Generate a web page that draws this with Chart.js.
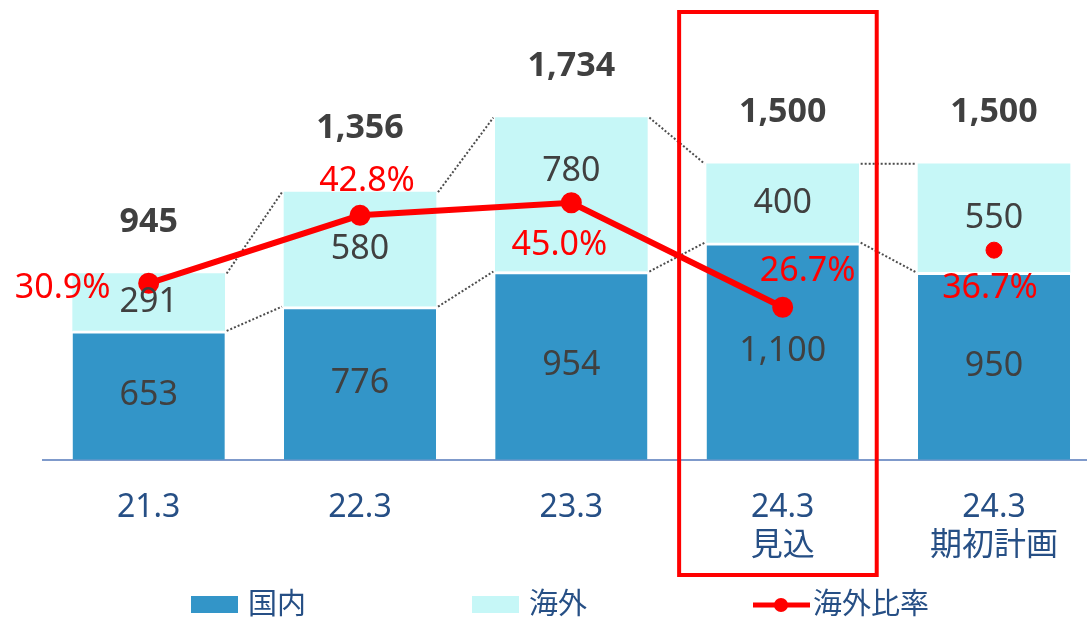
<!DOCTYPE html>
<html>
<head>
<meta charset="utf-8">
<script src="https://cdn.jsdelivr.net/npm/chart.js@4/dist/chart.umd.min.js"></script>
<style>
  html, body { margin: 0; padding: 0; background: #ffffff; overflow: hidden; }
  canvas { display: block; }
</style>
</head>
<body>
<canvas id="salesChart" width="1087" height="621"></canvas>
<script>
// 期ごとの売上（国内・海外）と海外比率
const categories = ['21.3', '22.3', '23.3', ['24.3', '見込'], ['24.3', '期初計画']];
const domestic = [653, 776, 954, 1100, 950];
const overseas = [291, 580, 780, 400, 550];
const totals = [945, 1356, 1734, 1500, 1500];
const overseasRatio = [30.9, 42.8, 45.0, 26.7, null];
const planRatio = [null, null, null, null, 36.7];

// 色・フォント
const fontFamily = "'Noto Sans', 'Noto Sans CJK JP', sans-serif";
const textGray = '#404040';
const navy = '#264F85';
const red = '#FF0000';

// ラベルのずらし量（重なり回避用）
const ratioLabelOffsets = [[-86, 5], [7, -34], [-12, 43], [25, -36], [-4, 38]];
const overseasLabelShift = [0, 0, -23, 0, 0];
const totalLabelShift = [0, -13, 0, 0, 0];

const toPoints = arr => arr
    .map((v, i) => ({ x: i, y: v }))
    .filter(p => p.y !== null);

const fmt = v => v.toLocaleString('en-US');

const decorations = {
    id: 'decorations',
    beforeDatasetsDraw(chart) {
        const ctx = chart.ctx;
        // 棒の上端をつなぐ点線
        ctx.save();
        ctx.strokeStyle = '#4D4D4D';
        ctx.lineWidth = 2;
        ctx.setLineDash([2, 2]);
        [0, 1].forEach(di => {
            const bars = chart.getDatasetMeta(di).data;
            for (let i = 0; i < bars.length - 1; i++) {
                const a = bars[i], b = bars[i + 1];
                ctx.beginPath();
                ctx.moveTo(a.x + a.width / 2 + 2, a.y);
                ctx.lineTo(b.x - b.width / 2 - 2, b.y);
                ctx.stroke();
            }
        });
        ctx.restore();
    },
    afterDatasetsDraw(chart) {
        const ctx = chart.ctx;
        ctx.save();
        ctx.textAlign = 'center';
        ctx.textBaseline = 'middle';

        // 棒の中の数値
        ctx.font = `34px ${fontFamily}`;
        ctx.fillStyle = textGray;
        chart.getDatasetMeta(0).data.forEach((bar, i) => {
            ctx.fillText(fmt(domestic[i]), bar.x, (bar.y + bar.base) / 2);
        });
        chart.getDatasetMeta(1).data.forEach((bar, i) => {
            ctx.fillText(fmt(overseas[i]), bar.x, (bar.y + bar.base) / 2 + overseasLabelShift[i]);
        });

        // 合計
        ctx.font = `bold 34px ${fontFamily}`;
        chart.getDatasetMeta(1).data.forEach((bar, i) => {
            ctx.fillText(fmt(totals[i]), bar.x, bar.y - 51 + totalLabelShift[i]);
        });

        // 海外比率
        ctx.font = `34px ${fontFamily}`;
        ctx.fillStyle = red;
        const x = chart.scales.x, y1 = chart.scales.y1;
        categories.forEach((c, i) => {
            const v = overseasRatio[i] !== null ? overseasRatio[i] : planRatio[i];
            if (v === null) return;
            const px = x.getPixelForValue(i) + ratioLabelOffsets[i][0];
            const py = y1.getPixelForValue(v) + ratioLabelOffsets[i][1];
            ctx.fillText(v.toFixed(1) + '%', px, py);
        });
        ctx.restore();
    },
    afterDraw(chart) {
        const ctx = chart.ctx;
        const x = chart.scales.x;
        ctx.save();

        // 見込の強調枠
        const left = x.getPixelForValue(2.51);
        const right = x.getPixelForValue(3.445);
        ctx.strokeStyle = red;
        ctx.lineWidth = 4;
        ctx.strokeRect(left, 12, right - left, chart.height - 46 - 12);

        // 凡例
        const ly = 605;
        ctx.font = `29px ${fontFamily}`;
        ctx.textBaseline = 'middle';
        ctx.textAlign = 'left';
        let lx = 191;
        chart.data.datasets.slice(0, 3).forEach((ds, i) => {
            if (ds.type === 'bar') {
                ctx.fillStyle = ds.backgroundColor;
                ctx.fillRect(lx, ly - 9, 47, 17);
                lx += 57;
            } else {
                ctx.strokeStyle = ds.borderColor;
                ctx.lineWidth = 5;
                ctx.beginPath();
                ctx.moveTo(lx, ly);
                ctx.lineTo(lx + 57, ly);
                ctx.stroke();
                ctx.fillStyle = ds.borderColor;
                ctx.beginPath();
                ctx.arc(lx + 28, ly, 7, 0, Math.PI * 2);
                ctx.fill();
                lx += 60;
            }
            ctx.fillStyle = navy;
            ctx.fillText(ds.label, lx, ly + 1);
            lx += ctx.measureText(ds.label).width + 166;
        });
        ctx.restore();
    }
};

new Chart(document.getElementById('salesChart'), {
    data: {
        datasets: [
            {
                type: 'bar',
                label: '国内',
                data: toPoints(domestic),
                backgroundColor: '#3395C8',
                borderColor: '#ffffff',
                borderWidth: { top: 3, left: 0, right: 0, bottom: 0 },
                barThickness: 152,
                order: 2
            },
            {
                type: 'bar',
                label: '海外',
                data: toPoints(overseas),
                backgroundColor: '#C6F7F7',
                barThickness: 152,
                order: 2
            },
            {
                type: 'line',
                label: '海外比率',
                data: toPoints(overseasRatio),
                yAxisID: 'y1',
                borderColor: red,
                backgroundColor: red,
                borderWidth: 6,
                pointRadius: 7.5,
                pointHoverRadius: 7.5,
                order: 0
            },
            {
                type: 'line',
                label: '期初計画比率',
                data: toPoints(planRatio),
                yAxisID: 'y1',
                showLine: false,
                borderColor: red,
                backgroundColor: red,
                pointRadius: 8,
                order: 0
            }
        ]
    },
    options: {
        responsive: false,
        animation: false,
        devicePixelRatio: 1,
        layout: { autoPadding: false, padding: { left: 43, right: 0, top: 0, bottom: 27 } },
        scales: {
            x: {
                type: 'linear',
                min: -0.5,
                max: 4.44,
                offset: false,
                stacked: true,
                grid: { display: false, drawTicks: false, offset: false },
                border: { display: true, color: '#7F9ACB', width: 2 },
                afterBuildTicks: scale => {
                    scale.ticks = categories.map((c, i) => ({ value: i }));
                },
                afterFit: scale => {
                    scale.paddingLeft = 0;
                    scale.paddingRight = 0;
                },
                ticks: {
                    callback: value => categories[value],
                    color: navy,
                    font: { family: fontFamily, size: 32, lineHeight: 1.16 },
                    padding: 30,
                    autoSkip: false,
                    maxRotation: 0
                }
            },
            y: { display: false, stacked: true, min: 0, max: 2330 },
            y1: { display: false, min: 0, max: 80.5 }
        },
        plugins: {
            legend: { display: false },
            tooltip: { enabled: false }
        }
    },
    plugins: [decorations]
});
</script>
</body>
</html>
